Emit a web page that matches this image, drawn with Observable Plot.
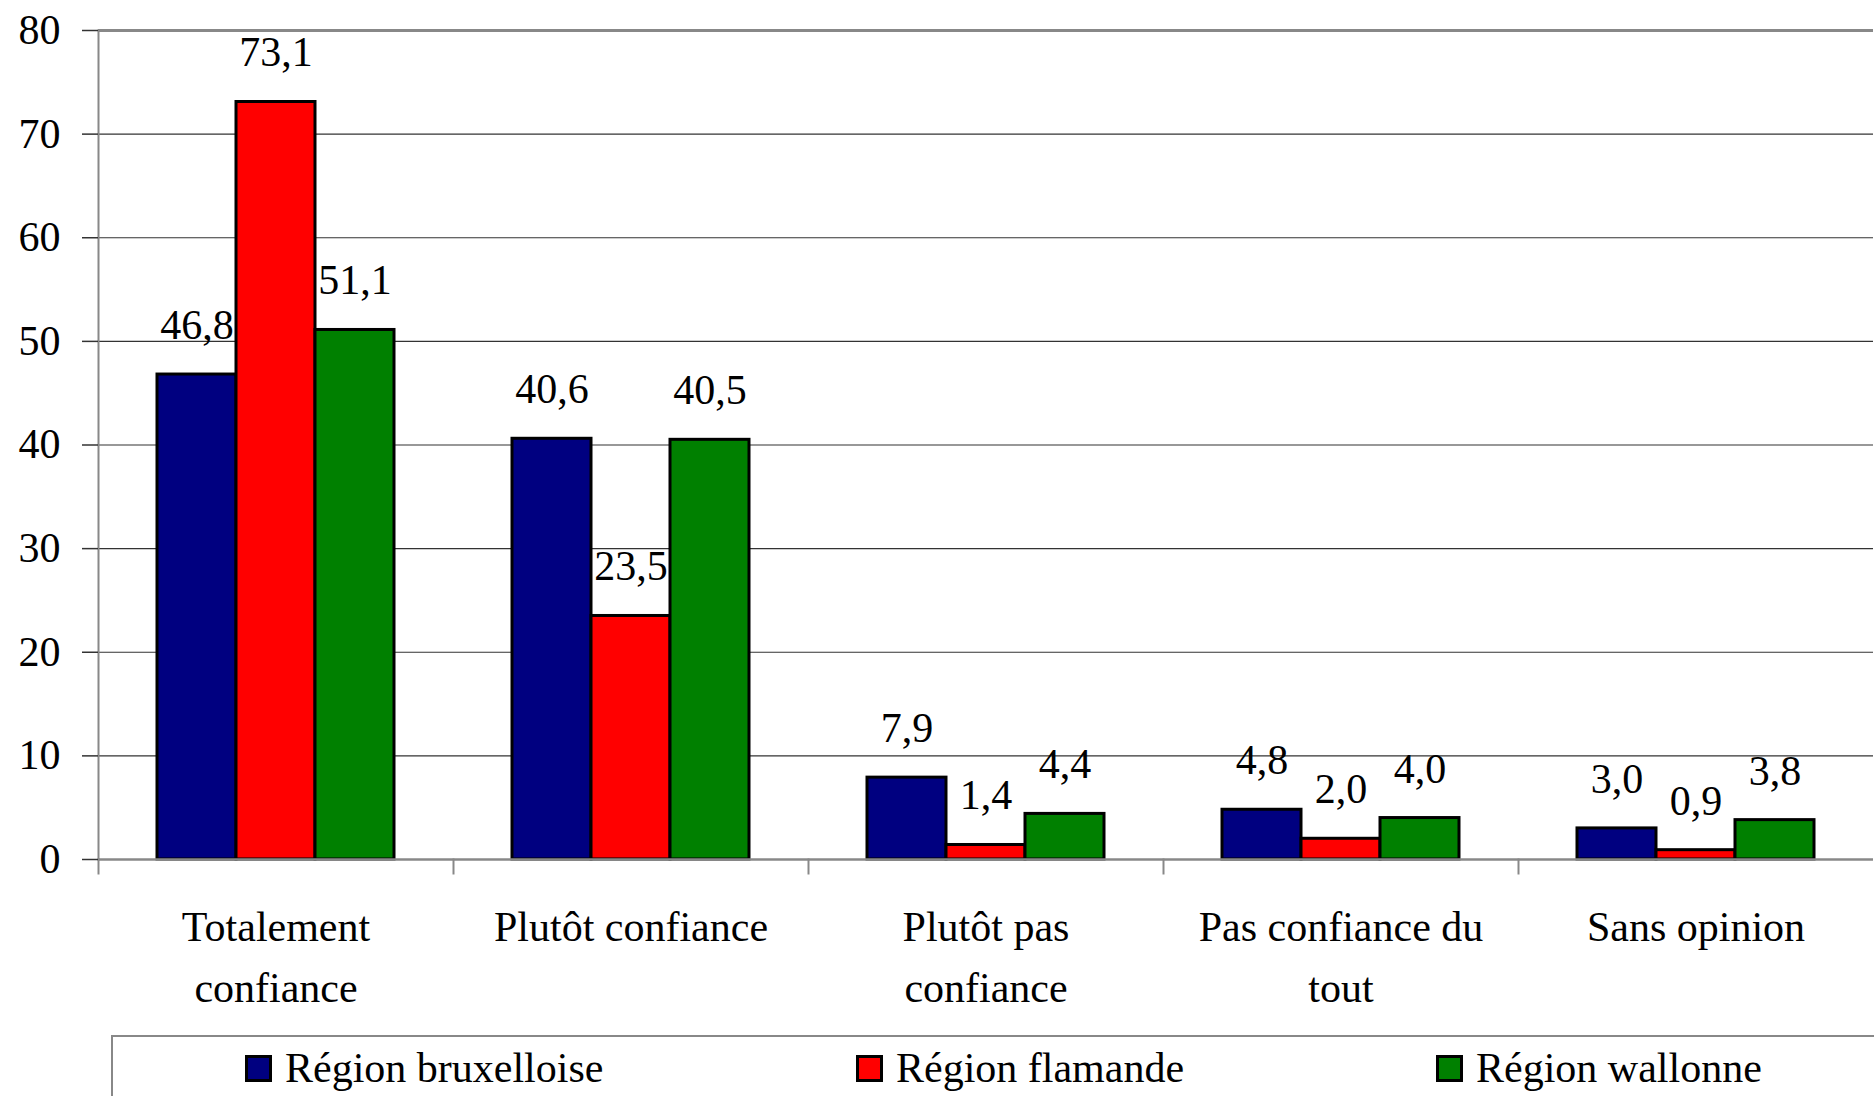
<!DOCTYPE html>
<html>
<head>
<meta charset="utf-8">
<script src="https://cdn.jsdelivr.net/npm/d3@7"></script>
<script src="https://cdn.jsdelivr.net/npm/@observablehq/plot@0.6"></script>
<style>
  html, body { margin: 0; padding: 0; background: #fff; }
  body { width: 1874px; height: 1096px; overflow: hidden; position: relative; font-family: "Liberation Serif", "Times New Roman", serif; }
  #chart { position: absolute; left: 0; top: 0; }
  #legend { position: absolute; left: 111px; top: 1035px; width: 1900px; height: 120px; border: 2px solid #888; box-sizing: border-box; }
  .item { position: absolute; top: 14px; display: flex; align-items: center; font-size: 42px; line-height: 34px; color: #000; white-space: nowrap; }
  .sw { width: 21px; height: 21px; border: 3px solid #000; margin-right: 13px; }
</style>
</head>
<body>
<div id="chart"></div>
<div id="legend"></div>
<script>
const categories = ["Totalement confiance", "Plutôt confiance", "Plutôt pas confiance", "Pas confiance du tout", "Sans opinion"];
const categoryLabels = ["Totalement\nconfiance", "Plutôt confiance", "Plutôt pas\nconfiance", "Pas confiance du\ntout", "Sans opinion"];
const regions = ["Région bruxelloise", "Région flamande", "Région wallonne"];
const colors = ["#000080", "#ff0000", "#008000"];
const bruxelloise = [46.8, 40.6, 7.9, 4.8, 3.0];
const flamande = [73.1, 23.5, 1.4, 2.0, 0.9];
const wallonne = [51.1, 40.5, 4.4, 4.0, 3.8];
const yTicks = [0, 10, 20, 30, 40, 50, 60, 70, 80];

const series = [bruxelloise, flamande, wallonne];
const rows = [];
categories.forEach((c, i) => regions.forEach((r, j) => rows.push({cat: c, region: r, value: series[j][i]})));
const catRows = categories.map((c, i) => ({cat: c, label: categoryLabels[i]}));
const fmt = v => v.toFixed(1).replace(".", ",");

const H = 1030, MT = 30, MB = 171;
const chart = Plot.plot({
  width: 1874,
  height: H,
  marginLeft: 96,
  marginRight: 0,
  marginTop: MT,
  marginBottom: MB,
  style: {fontFamily: "'Liberation Serif', 'Times New Roman', serif", fontSize: "42px", color: "#000", background: "#fff", overflow: "visible"},
  fx: {domain: categories, padding: 0, axis: null},
  x: {domain: regions, paddingInner: 0, paddingOuter: 0.725, align: 0.5, axis: null},
  y: {domain: [0, 80], axis: null},
  color: {domain: regions, range: colors},
  marks: [
    Plot.gridY(yTicks.filter(t => t > 0 && t < 80), {stroke: "#333", strokeOpacity: 1, strokeWidth: 1.2}),
    Plot.ruleY([80], {stroke: "#888", strokeWidth: 3}),
    Plot.barY(rows, {fx: "cat", x: "region", y: "value", fill: "region", stroke: "#000", strokeWidth: 3}),
    Plot.ruleY([0], {stroke: "#888", strokeWidth: 2.5}),
    Plot.frame({anchor: "left", facetAnchor: "left", stroke: "#888", strokeWidth: 2}),
    Plot.frame({anchor: "left", insetTop: H - MT - MB, insetBottom: -14, stroke: "#888", strokeWidth: 2}),
    Plot.axisY(yTicks, {label: null, tickSize: 16, tickPadding: 22, fontSize: 42, stroke: "#333", fill: "#000", strokeWidth: 1.5}),
    Plot.text(rows, {fx: "cat", x: "region", y: "value", text: d => fmt(d.value), lineAnchor: "middle", dy: -49, fontSize: 42, fill: "#000"}),
    Plot.text(catRows, {fx: "cat", text: "label", frameAnchor: "bottom", lineAnchor: "top", dy: 38, lineHeight: 1.45, fontSize: 42, fill: "#000"})
  ]
});
document.getElementById("chart").appendChild(chart);

const legend = document.getElementById("legend");
const lefts = [132, 743, 1323];
regions.forEach((r, i) => {
  const it = document.createElement("div");
  it.className = "item";
  it.style.left = lefts[i] + "px";
  const sw = document.createElement("div");
  sw.className = "sw";
  sw.style.background = colors[i];
  const t = document.createElement("span");
  t.textContent = r;
  it.appendChild(sw);
  it.appendChild(t);
  legend.appendChild(it);
});
</script>
</body>
</html>
